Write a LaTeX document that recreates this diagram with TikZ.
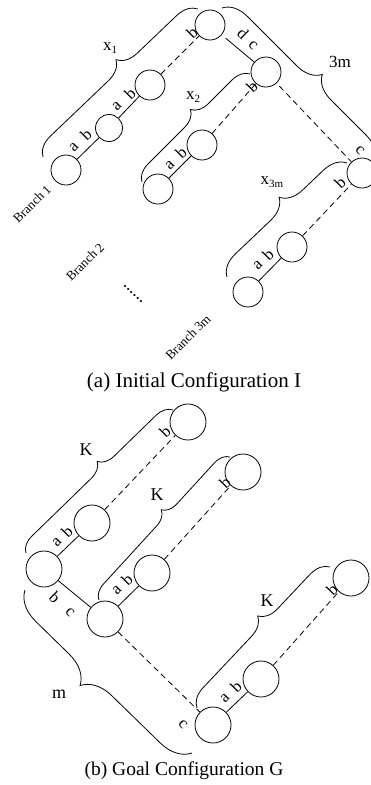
\documentclass[tikz,border=0pt]{standalone}
\usepackage{fontspec}
\setmainfont{Liberation Serif}
\usetikzlibrary{decorations.pathreplacing}
\newcommand{\lbsub}[1]{\raisebox{-0.4ex}{\fontsize{11}{11}\selectfont #1}}
\begin{document}
\begin{tikzpicture}[x=1pt,y=-1pt,
  ball/.style={circle,draw,minimum size=30pt,inner sep=0pt,line width=0.8pt},
  bigball/.style={ball,minimum size=36pt},
  link/.style={line width=0.8pt},
  dlink/.style={line width=0.8pt,dash pattern=on 6pt off 4pt},
  brc/.style={decorate,decoration={brace,amplitude=#1,aspect=0.56},line width=0.8pt},
  brcm/.style={decorate,decoration={brace,amplitude=#1,aspect=0.545},line width=0.8pt},
  lab/.style={font=\fontsize{16.5}{16.5}\selectfont,inner sep=0pt},
  blab/.style={font=\fontsize{17}{17}\selectfont,inner sep=0pt},
  brlab/.style={font=\fontsize{13}{13}\selectfont,inner sep=0pt},
  captext/.style={inner sep=0pt}
]
\useasboundingbox (0,0) rectangle (370,785);

% ---------- (a) ----------
\node[ball] (A4) at (66,170) {};
\node[ball,minimum size=27pt] (A3) at (109,128) {};
\node[ball] (A2) at (150,85) {};
\node[ball] (C1) at (210,25) {};
\node[ball] (B1) at (266,72) {};
\node[ball] (B2) at (202,145) {};
\node[ball] (B3) at (158,189) {};
\node[ball] (D1) at (362,173) {};
\node[ball] (D2) at (292,247) {};
\node[ball] (D3) at (248,292) {};

\draw[link] (A4) -- (A3);
\draw[link] (A3) -- (A2);
\draw[dlink] (A2) -- (C1);
\draw[link,shorten <=5pt] (C1) -- (B1);
\draw[link] (B3) -- (B2);
\draw[dlink] (B2) -- (B1);
\draw[dlink,shorten <=4pt] (B1) -- (D1);
\draw[link] (D3) -- (D2);
\draw[dlink] (D2) -- (D1);

\node[lab,rotate=45] (la1) at (74,147) {a};
\node[lab,rotate=45] (lb1) at (86,135) {b};
\node[lab,rotate=45] (la2) at (117,106) {a};
\node[lab,rotate=45] (lb2) at (130,94) {b};
\node[lab,rotate=45] (lb3) at (192,33) {b};
\node[lab,rotate=-45] (ld4) at (243,33) {d};
\node[lab,rotate=-45] (lc4) at (253,45) {c};
\node[lab,rotate=45] (la5) at (170,165) {a};
\node[lab,rotate=45] (lb5) at (181,153) {b};
\node[lab,rotate=45] (lb6) at (252,87) {b};
\node[lab,rotate=-45] (lc7) at (360,150) {c};
\node[lab,rotate=45] (lb8) at (340,183) {b};
\node[lab,rotate=45] (la9) at (258,265) {a};
\node[lab,rotate=45] (lb9) at (268,255) {b};

\draw[brc=20pt] (43,157) -- (198,9);
\draw[brc=17pt] (142,182) -- (250,74);
\draw[brc=22pt] (227,277) -- (347,163);
\draw[brcm=24pt] (222,8) -- (375,161);

\node[blab] (x1) at (110,48) {x\lbsub{1}};
\node[blab] (x2) at (193,97) {x\lbsub{2}};
\node[blab] (x3m) at (272,182) {x\lbsub{3m}};
\node[blab] (t3m) at (340,62) {3m};

\node[brlab,rotate=45] (br1) at (32,204) {Branch 1};
\node[brlab,rotate=45] (br2) at (85,262) {Branch 2};
\node[font=\fontsize{18}{18}\selectfont,inner sep=0pt,rotate=-45] (dots) at (133,294) {......};
\node[brlab,rotate=45] (br3) at (188,337) {Branch 3m};

\node[captext,font=\fontsize{21}{21}\selectfont] (capA) at (194,382) {(a) Initial Configuration I};

% ---------- (b) ----------
\node[bigball] (Gt1) at (188,422) {};
\node[bigball] (G1b) at (92,523) {};
\node[bigball] (G1a) at (44,569) {};
\node[bigball] (Gt2) at (243,472) {};
\node[bigball] (G2b) at (152,573) {};
\node[bigball] (G2a) at (105,619) {};
\node[bigball] (Gt3) at (351,578) {};
\node[bigball] (G3b) at (261,679) {};
\node[bigball] (G3a) at (213,725) {};

\draw[link] (G1a) -- (G1b);
\draw[dlink] (G1b) -- (Gt1);
\draw[link] (G1a) -- (G2a);
\draw[link] (G2a) -- (G2b);
\draw[dlink] (G2b) -- (Gt2);
\draw[dlink] (G2a) -- (G3a);
\draw[link] (G3a) -- (G3b);
\draw[dlink] (G3b) -- (Gt3);

\node[lab,rotate=45] (ma1) at (57,542) {a};
\node[lab,rotate=45] (mb1) at (67,532) {b};
\node[lab,rotate=45] (mb2) at (165,432) {b};
\node[lab,rotate=-45] (mb3) at (55,597) {b};
\node[lab,rotate=-45] (mc3) at (70,612) {c};
\node[lab,rotate=45] (ma4) at (117,590) {a};
\node[lab,rotate=45] (mb4) at (127,580) {b};
\node[lab,rotate=45] (mb5) at (225,483) {b};
\node[lab,rotate=-45] (mc6) at (183,724) {c};
\node[lab,rotate=45] (ma7) at (225,698) {a};
\node[lab,rotate=45] (mb7) at (236,687) {b};
\node[lab,rotate=45] (mb8) at (332,590) {b};

\draw[brc=16pt] (26,553) -- (173,410);
\draw[brc=15pt] (99,600) -- (230,457);
\draw[brc=19pt] (197,708) -- (330,567);
\draw[brcm=30pt] (192,753) -- (25,590);

\node[blab,font=\fontsize{18}{18}\selectfont] (K1) at (86,450) {K};
\node[blab,font=\fontsize{18}{18}\selectfont] (K2) at (157,495) {K};
\node[blab,font=\fontsize{18}{18}\selectfont] (K3) at (267,601) {K};
\node[blab,font=\fontsize{18}{18}\selectfont] (mm) at (59,694) {m};

\node[captext,font=\fontsize{19.5}{19.5}\selectfont] (capB) at (184,771) {(b) Goal Configuration G};
\end{tikzpicture}
\end{document}
